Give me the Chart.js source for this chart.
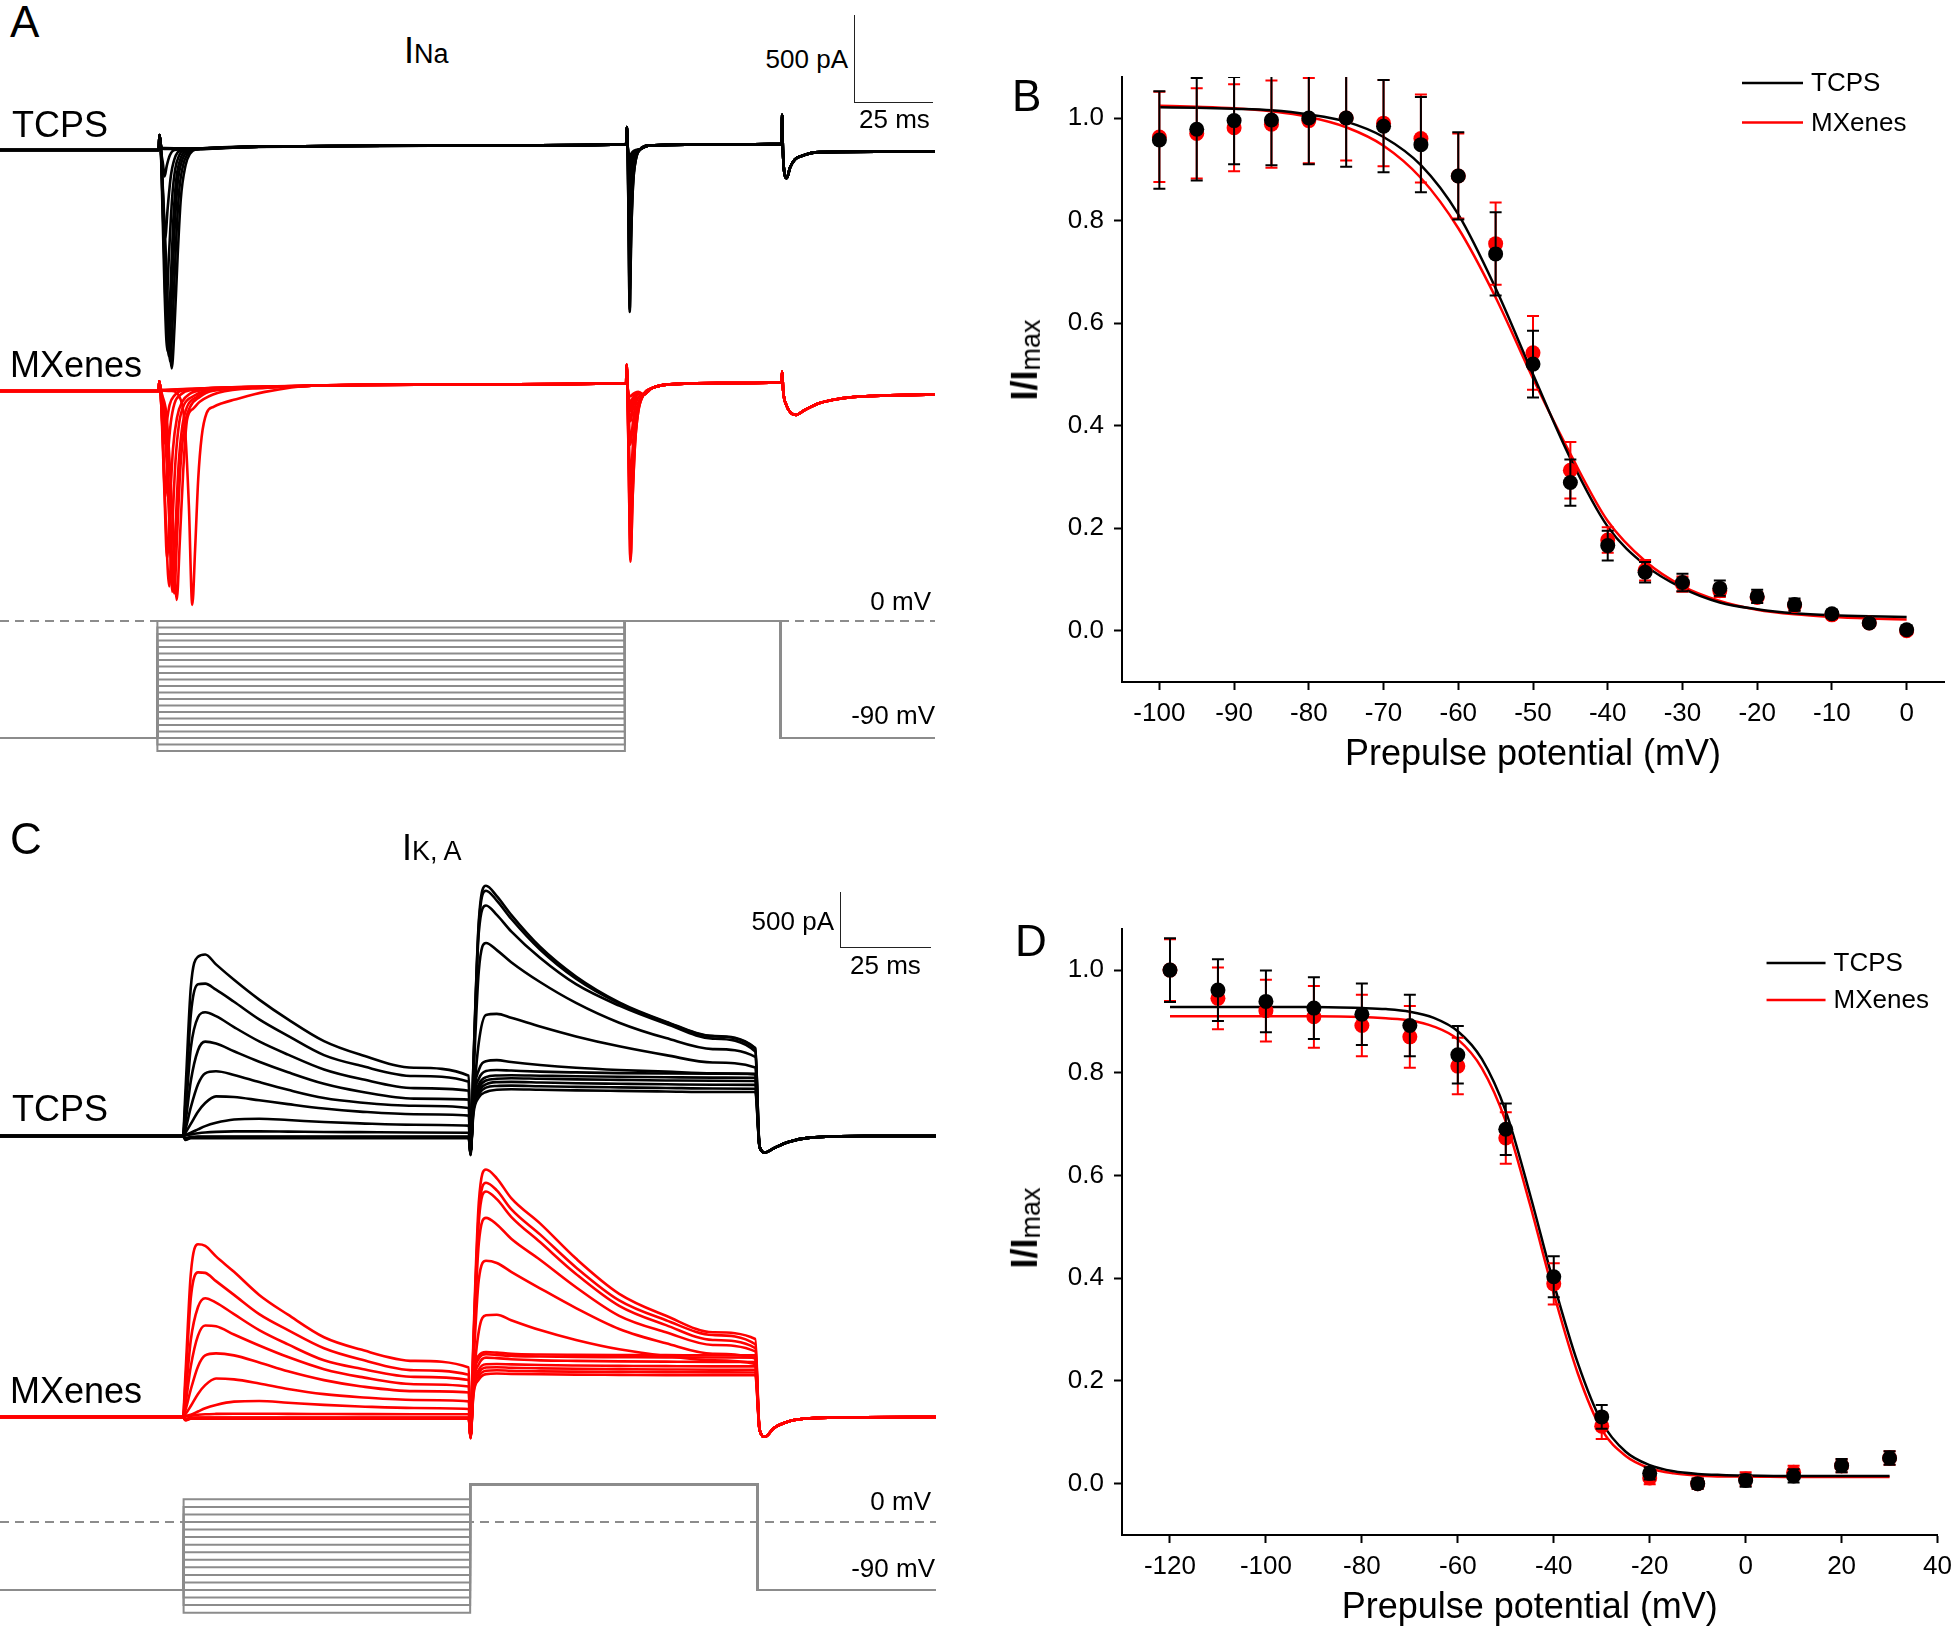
<!DOCTYPE html>
<html>
<head>
<meta charset="utf-8">
<title>INa and IK,A steady-state inactivation</title>
<script src="https://cdn.jsdelivr.net/npm/chart.js@4.4.1/dist/chart.umd.min.js"></script>
<style>
  html, body { margin: 0; padding: 0; background: #fff; }
  body { position: relative; width: 1960px; height: 1629px; overflow: hidden;
         font-family: "Liberation Sans", Arial, Helvetica, sans-serif; color: #000; }
  canvas { position: absolute; }
  .lbl { position: absolute; line-height: 1; white-space: nowrap; }
  .panel { font-size: 44px; }
  .grp { font-size: 36px; }
  .small { font-size: 26px; }
  .right { text-align: right; width: 120px; }
  .cur { font-size: 36px; }
  .cur span { font-size: 27px; }
  .bar { position: absolute; border: 0 solid #222; }
  .ytitle { font-size: 36px; transform: translate(-50%, -50%) rotate(-90deg); }
  .ytitle sub { font-size: 0.75em; vertical-align: -0.12em; font-weight: normal; }
</style>
</head>
<body>
<canvas id="naTcps" width="935" height="290" style="left:0;top:100px"></canvas>
<canvas id="naMx" width="935" height="290" style="left:0;top:340px"></canvas>
<canvas id="naProto" width="935" height="160" style="left:0;top:600px"></canvas>
<canvas id="kTcps" width="936" height="310" style="left:0;top:860px"></canvas>
<canvas id="kMx" width="936" height="310" style="left:0;top:1140px"></canvas>
<canvas id="kProto" width="936" height="150" style="left:0;top:1470px"></canvas>
<canvas id="chartB" width="1000" height="737" style="left:960px;top:40px"></canvas>
<canvas id="chartD" width="1000" height="740" style="left:960px;top:890px"></canvas>

<div class="lbl panel" style="left:10px;top:0">A</div>
<div class="lbl panel" style="left:1012px;top:74px">B</div>
<div class="lbl panel" style="left:10px;top:817px">C</div>
<div class="lbl panel" style="left:1015px;top:919px">D</div>

<div class="lbl cur" style="left:404px;top:33px">I<span>Na</span></div>
<div class="lbl cur" style="left:402px;top:830px">I<span>K, A</span></div>

<div class="lbl grp" style="left:12px;top:107px">TCPS</div>
<div class="lbl grp" style="left:10px;top:347px">MXenes</div>
<div class="lbl grp" style="left:12px;top:1091px">TCPS</div>
<div class="lbl grp" style="left:10px;top:1373px">MXenes</div>

<div class="lbl small right" style="left:728px;top:46px">500 pA</div>
<div class="lbl small" style="left:859px;top:106px">25 ms</div>
<div class="bar" style="left:854px;top:15px;height:88px;border-left-width:1.5px"></div>
<div class="bar" style="left:854px;top:102px;width:79px;border-top-width:1.5px"></div>

<div class="lbl small right" style="left:714px;top:908px">500 pA</div>
<div class="lbl small" style="left:850px;top:952px">25 ms</div>
<div class="bar" style="left:840px;top:892px;height:56px;border-left-width:1.5px"></div>
<div class="bar" style="left:840px;top:947px;width:91px;border-top-width:1.5px"></div>

<div class="lbl small right" style="left:811px;top:588px">0 mV</div>
<div class="lbl small right" style="left:815px;top:702px">-90 mV</div>
<div class="lbl small right" style="left:811px;top:1488px">0 mV</div>
<div class="lbl small right" style="left:815px;top:1555px">-90 mV</div>

<div class="lbl ytitle" style="left:1026px;top:360px"><b>I/I</b><sub>max</sub></div>
<div class="lbl ytitle" style="left:1026px;top:1228px"><b>I/I</b><sub>max</sub></div>

<script>
Chart.defaults.font.family = '"Liberation Sans", Arial, Helvetica, sans-serif';
Chart.defaults.color = '#000';

const BLACK = '#000000';
const RED = '#ff0000';
const GREY = '#8c8c8c';

// ---------- panel A : I_Na traces, points are [ms, pA] ----------
const naTcpsStart = [[0, 0], [50.95, 0], [51.15, 85], [51.5, 40]];
const naTcpsFirst = [
  [[51.8, -50], [53, -500], [54, -950], [55.1, -1240], [56, -1000], [57, -600], [58, -280], [59.5, -90], [61, -20], [63, 5]],
  [[51.8, -60], [53, -600], [54, -1050], [54.6, -1200], [55.5, -930], [56.5, -520], [57.5, -230], [59, -70], [61, -10], [63, 5]],
  [[51.8, -80], [53, -750], [54.1, -1170], [55, -880], [56, -460], [57, -190], [58.5, -55], [60.5, -5], [63, 5]],
  [[51.8, -100], [52.8, -800], [53.7, -1140], [54.6, -830], [55.6, -400], [56.6, -160], [58, -45], [60, 0], [63, 5]],
  [[51.8, -80], [52.6, -550], [53.3, -900], [54.2, -600], [55.2, -280], [56.2, -110], [57.5, -30], [59.5, 5], [63, 8]],
  [[51.8, -50], [52.4, -300], [53, -500], [53.8, -330], [54.8, -150], [56, -50], [58, 0], [63, 8]],
  [[51.8, -20], [52.3, -80], [52.8, -150], [53.5, -90], [54.5, -30], [56, 0], [63, 8]],
  [[52, 10], [56, 8], [63, 6]],
  [[52, 12], [56, 10], [63, 8]],
  [[52, 8], [56, 6], [63, 4]]
];
const naTcpsMid = [[80, 18], [150, 26], [200.9, 32], [201.1, 130], [201.4, 20]];
const naTcpsTestTimes = [201.7, 202.05, 202.5, 203.1, 204];
const naTcpsTestDip = [
  [-20, -40, -22, -9, 0],
  [-35, -70, -40, -15, -5],
  [-55, -110, -60, -25, -5],
  [-80, -160, -90, -35, -10],
  [-135, -270, -150, -60, -15],
  [-240, -480, -265, -105, -30],
  [-340, -675, -370, -150, -40],
  [-410, -815, -450, -180, -50],
  [-450, -905, -500, -200, -55],
  [-460, -920, -505, -200, -55]
];
const naTcpsLate = [[205.5, 5], [208, 25], [230, 32], [250.8, 35], [250.95, 200], [251.2, 0], [251.6, -120],
  [252.4, -160], [253.5, -100], [255, -55], [257, -35], [263, -12], [300, -8]];

const naMxStart = [[0, 0], [50.95, 0], [51.1, 55], [51.4, 20]];
const naMxFirst = [
  [[52, 5], [55, 0], [57.5, -30], [59.3, -200], [60.6, -650], [61.7, -1215], [62.6, -900], [63.6, -500], [64.7, -260], [66.3, -125], [68.5, -90], [71.5, -68], [75, -50], [85, -5]],
  [[52, -20], [53.5, -150], [55.3, -700], [56.7, -1187], [57.7, -850], [58.8, -450], [60, -165], [62, -100], [64.2, -60], [70, -10], [85, 18]],
  [[52, -30], [53.2, -200], [54.7, -750], [55.9, -1150], [56.8, -830], [57.9, -430], [59.2, -200], [61, -90], [64, -35], [68, 0], [85, 20]],
  [[52, -50], [53, -250], [54.2, -700], [55.3, -1140], [56.2, -820], [57.3, -420], [58.5, -200], [60, -90], [63, -35], [67, 0], [85, 22]],
  [[52, -150], [53, -650], [54.3, -1110], [55.2, -800], [56.3, -400], [57.5, -180], [59, -80], [62, -30], [66, 0], [85, 22]],
  [[51.8, -100], [52.8, -600], [53.6, -950], [54.5, -650], [55.5, -330], [56.8, -150], [58.5, -60], [61, -15], [65, 5], [85, 24]],
  [[52.2, -250], [53, -600], [53.8, -380], [54.8, -180], [56, -70], [58, -20], [61, 5], [85, 25]],
  [[52, -150], [52.6, -300], [53.4, -190], [54.4, -80], [56, -25], [59, 5], [85, 25]],
  [[52, 5], [60, 10], [85, 22]],
  [[52, 6], [60, 12], [85, 24]],
  [[52, 4], [60, 8], [85, 20]]
];
const naMxMid = [[100, 30], [150, 38], [200.9, 45], [201.05, 150], [201.3, 40]];
const naMxTestTimes = [201.7, 202.3, 203, 203.8, 204.8];
const naMxTestDip = [
  [-305, -735, -455, -220, -90],
  [-220, -528, -325, -160, -65],
  [-125, -305, -190, -90, -35],
  [-70, -172, -105, -50, -20],
  [-50, -115, -70, -35, -15],
  [-40, -90, -55, -27, -10],
  [-30, -65, -40, -20, -8],
  [-15, -30, -18, -9, -4],
  [-360, -865, -535, -260, -105],
  [-400, -970, -600, -290, -115],
  [-395, -955, -590, -285, -115]
];
const naMxLate = [[206.5, -20], [209, 15], [215, 38], [230, 45], [250.8, 48], [250.95, 110], [251.3, 0], [252.3, -80],
  [253.8, -125], [255.5, -136], [258, -110], [263, -68], [270, -42], [280, -28], [300, -20]];

const naPrepulse = [-100, -95, -90, -85, -80, -75, -70, -65, -60, -55, -50, -45, -40, -35, -30, -25, -20, -15, -10, -5, 0];
const naHold = -90;
const naTest = 0;
const naEdges = [0, 50.5, 200.5, 250.5, 300];

// ---------- panel B : I_Na inactivation ----------
const bVoltage = [-100, -95, -90, -85, -80, -75, -70, -65, -60, -55, -50, -45, -40, -35, -30, -25, -20, -15, -10, -5, 0];
const bTcps = [0.957, 0.978, 0.995, 0.996, 1.0, 1.0, 0.984, 0.948, 0.887, 0.735, 0.520, 0.289, 0.166, 0.114, 0.094, 0.083, 0.067, 0.051, 0.033, 0.015, 0.002];
const bTcpsErr = [0.095, 0.10, 0.085, 0.088, 0.09, 0.095, 0.09, 0.093, 0.085, 0.081, 0.065, 0.045, 0.029, 0.02, 0.017, 0.015, 0.013, 0.012, 0.008, 0.006, 0.008];
const bMx = [0.963, 0.970, 0.981, 0.988, 0.995, 1.0, 0.990, 0.960, 0.887, 0.755, 0.542, 0.313, 0.177, 0.118, 0.091, 0.078, 0.065, 0.049, 0.031, 0.015, 0.0];
const bMxErr = [0.088, 0.088, 0.085, 0.085, 0.083, 0.083, 0.084, 0.086, 0.083, 0.08, 0.072, 0.055, 0.025, 0.02, 0.015, 0.012, 0.01, 0.01, 0.008, 0.006, 0.006];
const bFitV = [-100, -95, -90, -85, -80, -75, -70, -65, -60, -55, -50, -45, -40, -35, -30, -25, -20, -15, -10, -5, 0];
const bFitTcps = [1.021, 1.020, 1.018, 1.015, 1.007, 0.993, 0.963, 0.908, 0.812, 0.668, 0.500, 0.336, 0.203, 0.128, 0.083, 0.055, 0.042, 0.034, 0.030, 0.028, 0.027];
const bFitMx = [1.024, 1.022, 1.019, 1.013, 1.002, 0.982, 0.946, 0.883, 0.785, 0.650, 0.492, 0.345, 0.214, 0.136, 0.087, 0.058, 0.041, 0.032, 0.027, 0.024, 0.022];
const bXTicks = [-100, -90, -80, -70, -60, -50, -40, -30, -20, -10, 0];

// ---------- panel C : I_K,A traces on a shared time grid (ms), values in pA ----------
const kTime = [0, 50.8, 51.5, 53, 55, 57, 60, 65, 72, 80, 90, 100, 115, 130.2, 130.7, 131.5, 133, 135, 138, 142,
  150, 160, 172, 185, 198, 209.8, 211, 212.5, 215, 219, 225, 240, 260];
const kTcpsPre = [
  [0, 0, 400, 1350, 1630, 1650, 1560, 1420, 1240, 1060, 862, 740, 620, 548],
  [0, 0, 300, 1100, 1380, 1385, 1330, 1220, 1060, 910, 735, 640, 545, 493],
  [0, 0, 200, 800, 1080, 1125, 1090, 990, 860, 740, 605, 520, 435, 412],
  [0, 0, 120, 500, 780, 858, 840, 770, 675, 580, 475, 405, 340, 331],
  [0, 0, 60, 260, 470, 570, 588, 555, 490, 420, 345, 305, 275, 255],
  [0, 0, 30, 110, 220, 300, 360, 355, 325, 290, 250, 222, 198, 185],
  [0, 0, 10, 30, 60, 90, 120, 150, 157, 145, 127, 115, 103, 94],
  [0, 0, 5, 15, 25, 32, 38, 42, 42, 40, 37, 35, 32, 30],
  [0, 0, -20, -10, -5, -5, -5, -5, -5, -5, -5, -5, -5, -5],
  [0, 0, -25, -12, -10, -10, -10, -10, -10, -10, -10, -10, -10, -10],
  [0, 0, -30, -15, -15, -15, -15, -15, -15, -15, -15, -15, -15, -15],
  [0, 0, -35, -20, -20, -20, -20, -20, -20, -20, -20, -20, -20, -20]
];
const kTcpsTest = [
  [-150, 200, 350, 400, 420, 425, 420, 415, 410, 405, 400, 400],
  [-150, 230, 380, 440, 455, 458, 452, 447, 442, 437, 432, 430],
  [-150, 250, 410, 470, 490, 492, 487, 480, 475, 470, 466, 465],
  [-150, 270, 440, 505, 520, 525, 520, 515, 510, 505, 502, 500],
  [-150, 290, 470, 535, 550, 552, 548, 543, 538, 534, 531, 530],
  [-150, 320, 520, 590, 600, 595, 585, 578, 572, 568, 566, 565],
  [-150, 350, 600, 680, 690, 672, 645, 620, 600, 585, 570, 560],
  [-150, 300, 850, 1100, 1110, 1075, 995, 905, 815, 735, 668, 623],
  [-160, 500, 1500, 1755, 1690, 1580, 1400, 1210, 1030, 890, 790, 720],
  [-165, 600, 1850, 2095, 2010, 1860, 1620, 1380, 1185, 1020, 885, 769],
  [-170, 640, 1920, 2230, 2140, 1975, 1695, 1430, 1205, 1035, 905, 795],
  [-175, 650, 1950, 2275, 2180, 2010, 1720, 1450, 1215, 1040, 910, 801]
];
const kTcpsTail = [-100, -150, -110, -55, -15, 0, 0];

const kMxPre = [
  [0, 0, 380, 1300, 1570, 1555, 1460, 1320, 1110, 930, 725, 615, 510, 450],
  [0, 0, 300, 1080, 1315, 1310, 1235, 1110, 935, 790, 625, 525, 425, 385],
  [0, 0, 180, 700, 1000, 1080, 1040, 935, 790, 660, 515, 440, 365, 336],
  [0, 0, 110, 460, 740, 832, 825, 750, 650, 545, 435, 365, 298, 278],
  [0, 0, 60, 250, 460, 560, 578, 560, 495, 415, 335, 280, 235, 223],
  [0, 0, 25, 100, 210, 290, 350, 342, 305, 255, 208, 180, 155, 142],
  [0, 0, 8, 20, 50, 80, 110, 140, 146, 130, 110, 96, 82, 73],
  [0, 0, 5, 12, 20, 25, 28, 30, 30, 28, 27, 26, 25, 25],
  [0, 0, -15, -8, -5, -5, -5, -5, -5, -5, -5, -5, -5, -5],
  [0, 0, -20, -10, -8, -8, -8, -8, -8, -8, -8, -8, -8, -8],
  [0, 0, -25, -12, -10, -10, -10, -10, -10, -10, -10, -10, -10, -10],
  [0, 0, -28, -14, -12, -12, -12, -12, -12, -12, -12, -12, -12, -12],
  [0, 0, -30, -15, -15, -15, -15, -15, -15, -15, -15, -15, -15, -15]
];
const kMxTest = [
  [-180, 200, 340, 390, 395, 392, 388, 385, 383, 381, 380, 380],
  [-180, 220, 370, 420, 425, 420, 415, 412, 410, 408, 406, 405],
  [-180, 240, 400, 450, 452, 447, 442, 438, 435, 432, 430, 430],
  [-180, 260, 430, 480, 482, 478, 472, 468, 465, 462, 460, 460],
  [-180, 290, 480, 540, 535, 525, 515, 510, 506, 503, 501, 500],
  [-180, 320, 530, 570, 565, 555, 550, 546, 544, 542, 541, 540],
  [-180, 340, 560, 590, 585, 575, 568, 565, 563, 562, 561, 560],
  [-180, 300, 780, 925, 930, 880, 790, 700, 615, 555, 515, 482],
  [-185, 450, 1250, 1420, 1400, 1320, 1170, 990, 800, 670, 575, 531],
  [-185, 550, 1580, 1810, 1750, 1620, 1430, 1180, 920, 770, 655, 596],
  [-190, 620, 1780, 2050, 1980, 1820, 1590, 1300, 1010, 835, 700, 627],
  [-190, 650, 1850, 2130, 2060, 1890, 1660, 1360, 1060, 880, 745, 661],
  [-195, 700, 1950, 2250, 2170, 1990, 1760, 1440, 1120, 920, 770, 709]
];
const kMxTail = [-120, -180, -100, -40, -12, -3, 0];

const kPrepulse = [-120, -110, -100, -90, -80, -70, -60, -50, -40, -30, -20, -10, 0, 10, 20, 30];
const kHold = -90;
const kTest = 50;
const kEdges = [0, 51, 130.6, 210.4, 260];

// ---------- panel D : I_K,A inactivation ----------
const dVoltage = [-120, -110, -100, -90, -80, -70, -60, -50, -40, -30, -20, -10, 0, 10, 20, 30];
const dTcps = [1.0, 0.961, 0.939, 0.926, 0.914, 0.892, 0.835, 0.690, 0.403, 0.130, 0.020, 0.0, 0.006, 0.015, 0.035, 0.050];
const dTcpsErr = [0.062, 0.06, 0.06, 0.06, 0.06, 0.06, 0.056, 0.05, 0.04, 0.023, 0.012, 0.01, 0.012, 0.013, 0.013, 0.013];
const dMx = [1.0, 0.945, 0.921, 0.909, 0.892, 0.870, 0.813, 0.673, 0.389, 0.112, 0.011, 0.0, 0.009, 0.022, 0.035, 0.050];
const dMxErr = [0.06, 0.06, 0.06, 0.06, 0.06, 0.06, 0.055, 0.05, 0.04, 0.025, 0.012, 0.01, 0.013, 0.013, 0.013, 0.013];
const dFitV = [-120, -110, -100, -90, -80, -75, -70, -65, -60, -55, -50, -45, -40, -35, -30, -25, -20, -15, -10, -5, 0, 10, 20, 30];
const dFitTcps = [0.928, 0.928, 0.928, 0.928, 0.926, 0.924, 0.919, 0.907, 0.881, 0.827, 0.725, 0.565, 0.390, 0.235, 0.120, 0.062, 0.036, 0.024, 0.019, 0.017, 0.016, 0.015, 0.015, 0.015];
const dFitMx = [0.910, 0.910, 0.910, 0.910, 0.9085, 0.906, 0.902, 0.890, 0.865, 0.809, 0.705, 0.545, 0.370, 0.215, 0.105, 0.054, 0.030, 0.020, 0.016, 0.014, 0.014, 0.013, 0.013, 0.013];
const dXTicks = [-120, -100, -80, -60, -40, -20, 0, 20, 40];

const ratioTicks = [0, 0.2, 0.4, 0.6, 0.8, 1.0];

// ---------- helpers ----------
const toXY = pairs => pairs.map(([x, y]) => ({ x, y }));
const zip = (xs, ys) => xs.map((x, i) => ({ x, y: ys[i] }));

function naTrace(start, first, mid, testTimes, dip, late) {
  return toXY([...start, ...first, ...mid, ...testTimes.map((t, i) => [t, dip[i]]), ...late]);
}

const traceSet = (data, color) => ({
  data, borderColor: color, borderWidth: 2.6, cubicInterpolationMode: 'monotone', clip: false
});

function protocolSets(levels, hold, test, edges) {
  const [t0, t1, t2, t3, t4] = edges;
  const sets = levels.map(v => ({
    data: toXY([[t0, hold], [t1, hold], [t1, v], [t2, v], [t2, test], [t3, test], [t3, hold], [t4, hold]]),
    borderColor: GREY, borderWidth: 2, tension: 0, clip: false
  }));
  // dashed 0 mV reference, drawn underneath
  sets.push({ data: toXY([[t0, 0], [t4, 0]]), borderColor: GREY, borderWidth: 2, borderDash: [9, 6], tension: 0, clip: false });
  return sets;
}

function traceChart(id, datasets, xMax, yMin, yMax) {
  return new Chart(document.getElementById(id), {
    type: 'line',
    data: { datasets },
    options: {
      responsive: false, animation: false, events: [],
      layout: { padding: 0 },
      plugins: { legend: { display: false }, tooltip: { enabled: false } },
      elements: { point: { radius: 0 } },
      scales: {
        x: { type: 'linear', display: false, min: 0, max: xMax },
        y: { type: 'linear', display: false, min: yMin, max: yMax }
      }
    }
  });
}

const errorBars = {
  id: 'errorBars',
  beforeDatasetDraw(chart, args) {
    const ds = chart.data.datasets[args.index];
    if (!ds.errors) return;
    const { ctx, chartArea, scales: { x, y } } = chart;
    ctx.save();
    ctx.beginPath();
    ctx.rect(chartArea.left, chartArea.top, chartArea.width, chartArea.height);
    ctx.clip();
    ctx.strokeStyle = ds.pointBackgroundColor;
    ctx.lineWidth = 2;
    ds.data.forEach((p, i) => {
      const px = x.getPixelForValue(p.x);
      const top = y.getPixelForValue(p.y + ds.errors[i]);
      const bot = y.getPixelForValue(p.y - ds.errors[i]);
      ctx.beginPath();
      ctx.moveTo(px, top); ctx.lineTo(px, bot);
      ctx.moveTo(px - 6, top); ctx.lineTo(px + 6, top);
      ctx.moveTo(px - 6, bot); ctx.lineTo(px + 6, bot);
      ctx.stroke();
    });
    ctx.restore();
  }
};

const lineLegend = {
  id: 'lineLegend',
  afterDraw(chart, args, opts) {
    const { ctx, chartArea } = chart;
    const items = chart.data.datasets.filter(d => d.legendRank).sort((a, b) => a.legendRank - b.legendRank);
    ctx.save();
    ctx.font = '26px "Liberation Sans", Arial, sans-serif';
    ctx.textBaseline = 'middle';
    items.forEach((d, i) => {
      const y = chartArea.top + opts.top + i * opts.gap;
      const x0 = chartArea.right + opts.left;
      ctx.strokeStyle = d.borderColor;
      ctx.lineWidth = 2.5;
      ctx.beginPath(); ctx.moveTo(x0, y); ctx.lineTo(x0 + opts.len, y); ctx.stroke();
      ctx.fillStyle = '#000';
      ctx.fillText(d.label, x0 + opts.len + opts.space, y + 1);
    });
    ctx.restore();
  }
};

function curveChart(id, c) {
  const grid = { drawOnChartArea: false, tickLength: 8, tickWidth: 2, color: '#000' };
  const border = { color: '#000', width: 2 };
  return new Chart(document.getElementById(id), {
    type: 'line',
    data: {
      datasets: [
        { label: 'MXenes', legendRank: 2, data: zip(c.fitV, c.fitMx), borderColor: RED, borderWidth: 2.5,
          cubicInterpolationMode: 'monotone', pointRadius: 0, order: 4 },
        { label: 'TCPS', legendRank: 1, data: zip(c.fitV, c.fitTcps), borderColor: BLACK, borderWidth: 2.5,
          cubicInterpolationMode: 'monotone', pointRadius: 0, order: 3 },
        { label: 'MXenes data', data: zip(c.v, c.mx), errors: c.mxErr, showLine: false, pointRadius: 7.5,
          pointBackgroundColor: RED, pointBorderWidth: 0, order: 2 },
        { label: 'TCPS data', data: zip(c.v, c.tcps), errors: c.tcpsErr, showLine: false, pointRadius: 7.5,
          pointBackgroundColor: BLACK, pointBorderWidth: 0, order: 1 }
      ]
    },
    options: {
      responsive: false, animation: false, events: [],
      layout: { padding: { top: c.padTop, right: 16, left: 0, bottom: 0 } },
      plugins: { legend: { display: false }, tooltip: { enabled: false }, lineLegend: c.legend },
      scales: {
        x: {
          type: 'linear', min: c.xMin, max: c.xMax, grid, border,
          ticks: { autoSkip: false, maxRotation: 0, padding: 8, font: { size: 26 }, color: '#000' },
          afterBuildTicks: s => { s.ticks = c.xTicks.map(value => ({ value })); },
          title: { display: true, text: 'Prepulse potential (mV)', font: { size: 36 }, color: '#000', padding: { top: 0, bottom: 0 } },
          afterFit: s => { s.height = 95; }
        },
        y: {
          type: 'linear', min: -0.1, max: 1.08, grid, border,
          ticks: { padding: 10, font: { size: 26 }, color: '#000', callback: v => v.toFixed(1) },
          afterBuildTicks: s => { s.ticks = ratioTicks.map(value => ({ value })); },
          afterFit: s => { s.width = 162; }
        }
      }
    },
    plugins: [errorBars, lineLegend]
  });
}

// ---------- build panel A ----------
traceChart('naTcps',
  naTcpsFirst.map((f, i) => traceSet(naTrace(naTcpsStart, f, naTcpsMid, naTcpsTestTimes, naTcpsTestDip[i], naTcpsLate), BLACK)),
  300, -1363, 284);
traceChart('naMx',
  naMxFirst.map((f, i) => traceSet(naTrace(naMxStart, f, naMxMid, naMxTestTimes, naMxTestDip[i], naMxLate), RED)),
  300, -1357.5, 289.7);
traceChart('naProto', protocolSets(naPrepulse, naHold, naTest, naEdges), 300, -106.92, 16.15);

// ---------- build panel C ----------
traceChart('kTcps',
  kTcpsPre.map((pre, i) => traceSet(zip(kTime, [...pre, ...kTcpsTest[i], ...kTcpsTail]), BLACK)),
  260, -309, 2509);
traceChart('kMx',
  kMxPre.map((pre, i) => traceSet(zip(kTime, [...pre, ...kMxTest[i], ...kMxTail]), RED)),
  260, -300, 2518);
traceChart('kProto', protocolSets(kPrepulse, kHold, kTest, kEdges), 260, -129.7, 68.8);

// ---------- panels B and D ----------
curveChart('chartB', {
  v: bVoltage, tcps: bTcps, tcpsErr: bTcpsErr, mx: bMx, mxErr: bMxErr,
  fitV: bFitV, fitTcps: bFitTcps, fitMx: bFitMx,
  xMin: -105, xMax: 5, xTicks: bXTicks, padTop: 37,
  legend: { top: 6, gap: 39.6, left: -202, len: 61, space: 8 }
});
curveChart('chartD', {
  v: dVoltage, tcps: dTcps, tcpsErr: dTcpsErr, mx: dMx, mxErr: dMxErr,
  fitV: dFitV, fitTcps: dFitTcps, fitMx: dFitMx,
  xMin: -130, xMax: 40, xTicks: dXTicks, padTop: 39,
  legend: { top: 34, gap: 37, left: -171, len: 59, space: 8 }
});
</script>
</body>
</html>
